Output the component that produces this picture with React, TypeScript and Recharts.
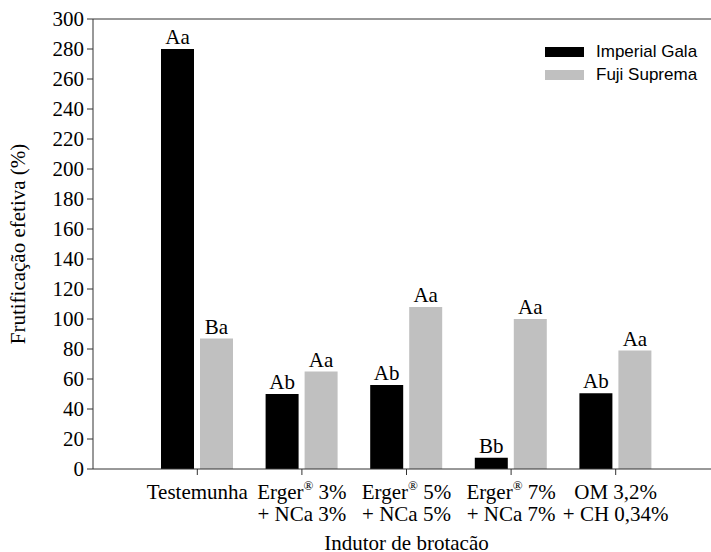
import React from "react";
import { BarChart, Bar, XAxis, YAxis, Legend, LabelList, ReferenceLine } from "recharts";

const categories = [
  "Testemunha",
  "Erger® 3%\n+ NCa 3%",
  "Erger® 5%\n+ NCa 5%",
  "Erger® 7%\n+ NCa 7%",
  "OM 3,2%\n+ CH 0,34%",
];
const imperialGala = [280, 50, 56, 7.5, 50.5];
const fujiSuprema = [87, 65, 108, 100, 79];
const imperialLetters = ["Aa", "Ab", "Ab", "Bb", "Ab"];
const fujiLetters = ["Ba", "Aa", "Aa", "Aa", "Aa"];
const yTicks = [0, 20, 40, 60, 80, 100, 120, 140, 160, 180, 200, 220, 240, 260, 280, 300];

const data = categories.map((c, i) => ({
  name: c,
  gala: imperialGala[i],
  fuji: fujiSuprema[i],
  galaLabel: imperialLetters[i],
  fujiLabel: fujiLetters[i],
}));

const SERIF = "'Liberation Serif', 'Times New Roman', serif";
const SANS = "'Liberation Sans', Arial, sans-serif";
const AXIS = "#333";

const CategoryTick = (props: any) => {
  const { x, y, payload } = props;
  const lines = String(payload.value).split("\n");
  return (
    <g transform={`translate(${x},${y})`}>
      {lines.map((line, i) => {
        const parts = line.split("®");
        return (
          <text
            key={i}
            x={0}
            y={22 + i * 22}
            textAnchor="middle"
            fontFamily={SERIF}
            fontSize={21}
            fill="#000"
          >
            {parts.length > 1 ? (
              <>
                <tspan>{parts[0]}</tspan>
                <tspan dy={-9} fontSize={13}>
                  ®
                </tspan>
                <tspan dy={9}>{parts[1]}</tspan>
              </>
            ) : (
              line
            )}
          </text>
        );
      })}
    </g>
  );
};

const LegendBox = () => (
  <div style={{ fontFamily: SANS, fontSize: 17, color: "#000" }}>
    {[
      { label: "Imperial Gala", color: "#000000" },
      { label: "Fuji Suprema", color: "#c0c0c0" },
    ].map((item) => (
      <div
        key={item.label}
        style={{ display: "flex", alignItems: "center", height: 23 }}
      >
        <span
          style={{
            display: "inline-block",
            width: 39,
            height: 10,
            background: item.color,
            marginRight: 12,
          }}
        />
        <span>{item.label}</span>
      </div>
    ))}
  </div>
);

const App: React.FC = () => {
  return (
    <div
      style={{
        position: "absolute",
        left: 0,
        top: 0,
        width: 711,
        height: 552,
        overflow: "hidden",
        background: "#fff",
      }}
    >
      <BarChart
        width={720}
        height={552}
        data={data}
        margin={{ top: 19, right: 0, left: 0, bottom: 0 }}
        barSize={33}
        barGap={6}
      >
        <XAxis
          dataKey="name"
          height={83}
          padding={{ left: 52, right: 52 }}
          tick={<CategoryTick />}
          tickSize={6}
          axisLine={{ stroke: AXIS }}
          tickLine={{ stroke: AXIS }}
          interval={0}
          label={{
            value: "Indutor de brotacão",
            position: "insideBottom",
            offset: 2,
            fontFamily: SERIF,
            fontSize: 21,
            fill: "#000",
          }}
        />
        <YAxis
          width={93}
          domain={[0, 300]}
          ticks={yTicks}
          interval={0}
          tickSize={6}
          tickMargin={3}
          axisLine={{ stroke: AXIS }}
          tickLine={{ stroke: AXIS }}
          tick={{ fontFamily: SERIF, fontSize: 21, fill: "#000" }}
          label={{
            content: (p: any) => {
              const vb = p.viewBox || { x: 0, y: 19, height: 450 };
              const cy = vb.y + vb.height / 2;
              return (
                <text
                  transform={`translate(25,${cy}) rotate(-90)`}
                  textAnchor="middle"
                  fontFamily={SERIF}
                  fontSize={21}
                  fill="#000"
                >
                  Frutificação efetiva (%)
                </text>
              );
            },
          }}
        />
        <ReferenceLine y={300} stroke={AXIS} ifOverflow="extendDomain" />
        <Legend
          verticalAlign="middle"
          align="center"
          layout="vertical"
          wrapperStyle={{ top: 40, left: 545, width: 170 }}
          content={<LegendBox />}
        />
        <Bar dataKey="gala" name="Imperial Gala" fill="#000000" isAnimationActive={false}>
          <LabelList
            dataKey="galaLabel"
            position="top"
            offset={5}
            fontFamily={SERIF}
            fontSize={21}
            fill="#000"
          />
        </Bar>
        <Bar dataKey="fuji" name="Fuji Suprema" fill="#c0c0c0" isAnimationActive={false}>
          <LabelList
            dataKey="fujiLabel"
            position="top"
            offset={5}
            fontFamily={SERIF}
            fontSize={21}
            fill="#000"
          />
        </Bar>
      </BarChart>
    </div>
  );
};

export default App;
